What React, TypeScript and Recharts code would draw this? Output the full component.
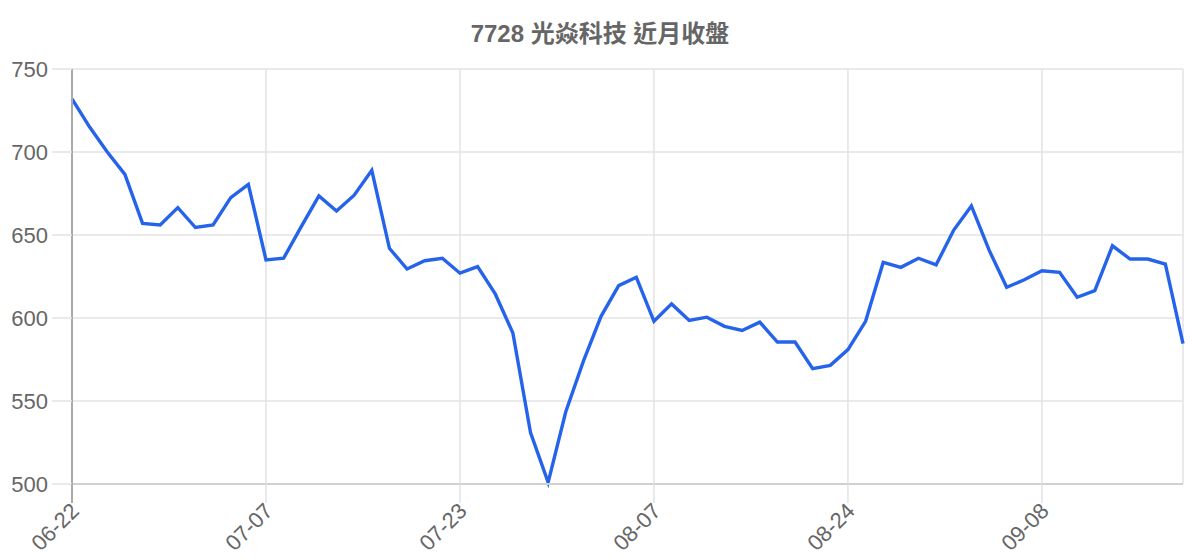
import React from 'react';
import { LineChart, Line, XAxis, YAxis, CartesianGrid } from 'recharts';

const dates: string[] = [
  '06-22', '06-23', '06-24', '06-25', '06-28', '06-29', '06-30', '07-01', '07-02', '07-05',
  '07-06', '07-07', '07-08', '07-09', '07-12', '07-13', '07-14', '07-15', '07-16', '07-19',
  '07-20', '07-22', '07-23', '07-24', '07-25', '07-26', '07-29', '07-30', '07-31', '08-01',
  '08-02', '08-05', '08-06', '08-07', '08-08', '08-09', '08-12', '08-13', '08-14', '08-15',
  '08-16', '08-19', '08-20', '08-21', '08-24', '08-25', '08-26', '08-27', '08-28', '08-31',
  '09-01', '09-02', '09-03', '09-04', '09-07', '09-08', '09-09', '09-10', '09-11', '09-14',
  '09-15', '09-16', '09-17', '09-18',
];

const closes: number[] = [
  732, 715, 700, 686.5, 657, 656, 666.5, 654.5, 656, 672.5,
  680.5, 635, 636, 655, 673.5, 664.5, 674, 689, 642, 629.5,
  634.5, 636, 627, 631, 614.5, 591, 531, 501, 543.5, 574,
  601, 619.5, 624.5, 598, 608.5, 598.5, 600.5, 595, 592.5, 597.5,
  585.5, 585.5, 569.5, 571.5, 581, 598, 633.5, 630.5, 636, 632,
  653, 667.5, 641, 618.5, 623, 628.5, 627.5, 612.5, 616.5, 643.5,
  635.5, 635.5, 632.5, 584.5,
];

const xTicks: string[] = ['06-22', '07-07', '07-23', '08-07', '08-24', '09-08'];
const yTicks: number[] = [500, 550, 600, 650, 700, 750];

const title = '7728 光焱科技 近月收盤';

const data = dates.map((d, i) => ({ date: d, close: closes[i] }));

const FONT = '"Liberation Sans", Arial, "Noto Sans CJK TC", sans-serif';
const TEXT = '#666666';
const X_TICK_LEN = 19;

const XTick = (props: any) => {
  const { x, y, payload } = props;
  const first = payload && payload.value === xTicks[0];
  const tx = x + 3;
  const ty = y + 4;
  return (
    <g>
      <line x1={x} y1={y - X_TICK_LEN} x2={x} y2={y} stroke={first ? '#aaaaaa' : '#e3e3e3'} strokeWidth={first ? 2 : 1.5} />
      <text
        x={tx}
        y={ty}
        textAnchor="end"
        dominantBaseline="central"
        transform={`rotate(-45 ${tx} ${ty})`}
        fill={TEXT}
        fontSize={22}
        fontFamily={FONT}
      >
        {payload.value}
      </text>
    </g>
  );
};

export default function App() {
  return (
    <div style={{ position: 'absolute', left: 0, top: 0, width: 1200, height: 560, background: '#fff' }}>
      <div
        style={{
          position: 'absolute',
          left: 0,
          top: 20,
          width: 1200,
          textAlign: 'center',
          fontFamily: FONT,
          fontWeight: 'bold',
          fontSize: 24,
          lineHeight: '28px',
          color: TEXT,
        }}
      >
        {title}
      </div>
      <LineChart
        width={1200}
        height={560}
        data={data}
        margin={{ top: 69, right: 17, bottom: 0, left: 0 }}
      >
        <CartesianGrid stroke="#e3e3e3" strokeWidth={1.5} />
        <XAxis
          dataKey="date"
          type="category"
          scale="point"
          padding={{ left: 0, right: 0 }}
          ticks={xTicks}
          interval={0}
          height={76}
          tickSize={X_TICK_LEN}
          tickMargin={0}
          axisLine={{ stroke: '#d0d0d0', strokeWidth: 2 }}
          tickLine={false}
          tick={<XTick />}
        />
        <YAxis
          type="number"
          domain={[500, 750]}
          ticks={yTicks}
          interval={0}
          width={72}
          tickSize={20}
          tickMargin={4}
          axisLine={{ stroke: '#aaaaaa', strokeWidth: 2 }}
          tickLine={{ stroke: '#e3e3e3', strokeWidth: 1.5 }}
          tick={{ fill: TEXT, fontSize: 22, fontFamily: FONT }}
        />
        <Line
          type="linear"
          dataKey="close"
          stroke="#2563eb"
          strokeWidth={3.4}
          dot={false}
          isAnimationActive={false}
        />
      </LineChart>
    </div>
  );
}
